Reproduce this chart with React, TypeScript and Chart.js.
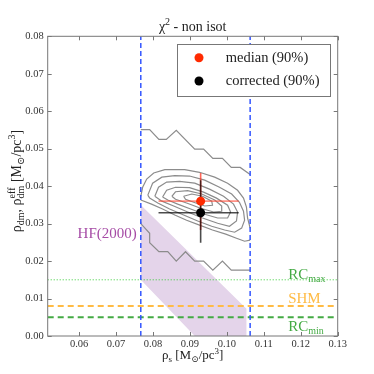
import React, { useEffect, useRef } from 'react';
import { Chart, registerables } from 'chart.js';

Chart.register(...registerables);

const SERIF = "'Liberation Serif', 'DejaVu Serif', serif";

// ---- axes ----
const X_RANGE = [0.0515, 0.13];
const Y_RANGE = [0, 0.08];
const xTickValues = [0.06, 0.07, 0.08, 0.09, 0.1, 0.11, 0.12, 0.13];
const yTickValues = [0.0, 0.01, 0.02, 0.03, 0.04, 0.05, 0.06, 0.07, 0.08];

// ---- HF(2000) band ----
const bandX = [0.0767, 0.1053, 0.1053, 0.0913, 0.0767, 0.0767];
const bandY = [0.035, 0.0073, 0.0, 0.0, 0.015, 0.035];

// ---- open contour lines ----
const upperX = [0.0767, 0.0791, 0.0816, 0.0836, 0.0863, 0.0913, 0.0937, 0.0962, 0.0988, 0.1012, 0.1036, 0.1063];
const upperY = [0.0551, 0.0551, 0.0525, 0.0525, 0.0549, 0.0499, 0.0499, 0.0474, 0.0474, 0.045, 0.045, 0.0431];
const lowerX = [0.0767, 0.0767, 0.0791, 0.0791, 0.0816, 0.084, 0.0863, 0.0888, 0.0913, 0.0937, 0.0962, 0.0988, 0.1012, 0.1063];
const lowerY = [0.0305, 0.03, 0.0274, 0.0249, 0.0225, 0.0225, 0.02, 0.0225, 0.02, 0.02, 0.0176, 0.02, 0.0176, 0.0176];

// ---- closed / clipped contours ----
const c1aX = [0.0767, 0.0772, 0.0783, 0.0802, 0.0832, 0.0886, 0.0926, 0.0967, 0.1002, 0.1029, 0.1045, 0.1053, 0.1056, 0.1063];
const c1aY = [0.0373, 0.0397, 0.0419, 0.0435, 0.0444, 0.0444, 0.0437, 0.0424, 0.0408, 0.0389, 0.0368, 0.0344, 0.0315, 0.0288];
const c1bX = [0.1063, 0.1048, 0.1026, 0.0997, 0.0961, 0.0926, 0.0891, 0.0859, 0.0826, 0.0796, 0.0767];
const c1bY = [0.0256, 0.0253, 0.0261, 0.0272, 0.0283, 0.0296, 0.0309, 0.0323, 0.0339, 0.0352, 0.0363];
const c2X = [0.0786, 0.0799, 0.0824, 0.0859, 0.0899, 0.094, 0.098, 0.1013, 0.1034, 0.1045, 0.1048, 0.104, 0.1021, 0.0994, 0.0959, 0.0921, 0.0883, 0.0845, 0.0813, 0.0791, 0.0786];
const c2Y = [0.0376, 0.0408, 0.0424, 0.0428, 0.0427, 0.0416, 0.0397, 0.0379, 0.0357, 0.0333, 0.0309, 0.0288, 0.0277, 0.0283, 0.0293, 0.0307, 0.0323, 0.0339, 0.0355, 0.0368, 0.0376];
const c3X = [0.0805, 0.0815, 0.0837, 0.0872, 0.0913, 0.0953, 0.0991, 0.1018, 0.1029, 0.1026, 0.1007, 0.0975, 0.0934, 0.0894, 0.0856, 0.0824, 0.0805];
const c3Y = [0.0373, 0.0397, 0.0411, 0.0413, 0.0408, 0.0392, 0.0373, 0.0352, 0.0331, 0.0307, 0.0293, 0.0301, 0.0315, 0.0331, 0.0347, 0.036, 0.0373];
const c4X = [0.0826, 0.0837, 0.0861, 0.0899, 0.0937, 0.0972, 0.1002, 0.101, 0.1002, 0.0975, 0.094, 0.0902, 0.0867, 0.084, 0.0826];
const c4Y = [0.0371, 0.0389, 0.0397, 0.0396, 0.0384, 0.0368, 0.0349, 0.0331, 0.0315, 0.0315, 0.0325, 0.0339, 0.0352, 0.0363, 0.0371];
const c5X = [0.0851, 0.0861, 0.0894, 0.0932, 0.0967, 0.0986, 0.0986, 0.0964, 0.0929, 0.0891, 0.0861, 0.0851];
const c5Y = [0.0373, 0.0385, 0.0388, 0.0379, 0.0363, 0.0347, 0.0333, 0.0331, 0.0341, 0.0355, 0.0365, 0.0373];
const c6X = [0.0883, 0.0905, 0.0934, 0.0959, 0.0961, 0.094, 0.091, 0.0888, 0.0883];
const c6Y = [0.0373, 0.0379, 0.0373, 0.036, 0.0349, 0.0347, 0.0357, 0.0365, 0.0373];

// ---- reference lines ----
const verticalLinesX = [0.0767, 0.1063];
const rcMax = 0.015;
const shm = 0.008;
const rcMin = 0.005;

// ---- estimates ----
const medianPoint = [0.0929, 0.036];
const medianXErr = [0.0815, 0.1032];
const medianYErr = [0.0283, 0.0435];
const correctedPoint = [0.0929, 0.0329];
const correctedXErr = [0.0815, 0.1032];
const correctedYErr = [0.0249, 0.0416];

const legendLabels = ['median (90%)', 'corrected (90%)'];

const pts = (xs: number[], ys: number[]) => xs.map((x, i) => ({ x, y: ys[i] }));

type Seg = { t: string; sz: number; dy: number; keep?: boolean };

function drawRich(ctx: CanvasRenderingContext2D, segs: Seg[], x0: number, y0: number, align: 'left' | 'center' | 'right', color: string) {
  let x = 0;
  let pending = 0;
  const items: { s: Seg; x: number }[] = [];
  for (const s of segs) {
    ctx.font = `${s.sz}px ${SERIF}`;
    const w = ctx.measureText(s.t).width;
    items.push({ s, x });
    if (s.keep) pending = Math.max(pending, w);
    else {
      x += Math.max(pending, w);
      pending = 0;
    }
  }
  const total = x;
  const start = align === 'left' ? x0 : align === 'center' ? x0 - total / 2 : x0 - total;
  ctx.fillStyle = color;
  ctx.textAlign = 'left';
  ctx.textBaseline = 'alphabetic';
  for (const it of items) {
    ctx.font = `${it.s.sz}px ${SERIF}`;
    ctx.fillText(it.s.t, start + it.x, y0 + it.s.dy);
  }
}

const decorPlugin = {
  id: 'decor',
  afterDatasetsDraw(chart: any) {
    const ctx: CanvasRenderingContext2D = chart.ctx;
    const { left, right, top, bottom } = chart.chartArea;
    const xs = chart.scales.x;
    const ys = chart.scales.y;
    ctx.save();
    // frame
    ctx.strokeStyle = '#777';
    ctx.lineWidth = 1;
    ctx.setLineDash([]);
    ctx.strokeRect(left, top, right - left, bottom - top);
    // inward ticks
    ctx.beginPath();
    for (const v of xTickValues) {
      const px = Math.round(xs.getPixelForValue(v)) + 0.5;
      ctx.moveTo(px, bottom);
      ctx.lineTo(px, bottom - 4);
      ctx.moveTo(px, top);
      ctx.lineTo(px, top + 4);
    }
    for (const v of yTickValues) {
      const py = Math.round(ys.getPixelForValue(v)) + 0.5;
      ctx.moveTo(left, py);
      ctx.lineTo(left + 4, py);
      ctx.moveTo(right, py);
      ctx.lineTo(right - 4, py);
    }
    ctx.stroke();

    // title
    drawRich(ctx, [
      { t: 'χ', sz: 14, dy: 0 },
      { t: '2', sz: 10, dy: -6 },
      { t: ' - non isot', sz: 14, dy: 0 },
    ], (left + right) / 2, 30.5, 'center', '#222');

    // x label
    drawRich(ctx, [
      { t: 'ρ', sz: 13, dy: 0 },
      { t: 's', sz: 9, dy: 3 },
      { t: ' [M', sz: 13, dy: 0 },
      { t: '⊙', sz: 9, dy: 3 },
      { t: '/pc', sz: 13, dy: 0 },
      { t: '3', sz: 9, dy: -5 },
      { t: ']', sz: 13, dy: 0 },
    ], (left + right) / 2, 359, 'center', '#222');

    // y label
    ctx.save();
    ctx.translate(20.5, 181);
    ctx.rotate(-Math.PI / 2);
    drawRich(ctx, [
      { t: 'ρ', sz: 14, dy: 0 },
      { t: 'dm', sz: 10, dy: 3 },
      { t: ', ', sz: 14, dy: 0 },
      { t: 'ρ', sz: 14, dy: 0 },
      { t: 'dm', sz: 10, dy: 3, keep: true },
      { t: 'eff', sz: 10, dy: -6 },
      { t: ' [M', sz: 14, dy: 0 },
      { t: '⊙', sz: 10, dy: 3 },
      { t: '/pc', sz: 14, dy: 0 },
      { t: '3', sz: 10, dy: -6 },
      { t: ']', sz: 14, dy: 0 },
    ], 0, 0, 'center', '#222');
    ctx.restore();

    // annotations
    drawRich(ctx, [{ t: 'HF(2000)', sz: 15, dy: 0 }], xs.getPixelForValue(0.0756), 238, 'right', '#a64ca6');
    const lx = xs.getPixelForValue(0.1166);
    const yMax = ys.getPixelForValue(rcMax);
    drawRich(ctx, [{ t: 'RC', sz: 15, dy: 0 }, { t: 'max', sz: 10, dy: 3 }], lx, yMax - 1, 'left', '#44aa44');
    const yShm = ys.getPixelForValue(shm);
    drawRich(ctx, [{ t: 'SHM', sz: 15, dy: 0 }], lx, yShm - 3, 'left', '#ffbb44');
    const yMin = ys.getPixelForValue(rcMin);
    drawRich(ctx, [{ t: 'RC', sz: 15, dy: 0 }, { t: 'min', sz: 10, dy: 3 }], lx, yMin + 13.5, 'left', '#44aa44');

    // legend
    const bx = 176.7, by = 44.3, bw = 153.3, bh = 51.7;
    ctx.fillStyle = '#fff';
    ctx.fillRect(bx, by, bw, bh);
    ctx.strokeStyle = '#777';
    ctx.lineWidth = 1;
    ctx.strokeRect(Math.round(bx) + 0.5, Math.round(by) + 0.5, Math.round(bw), Math.round(bh));
    const rows = [57.7, 81];
    const colors = ['#ff2a00', '#000000'];
    rows.forEach((ry, i) => {
      ctx.beginPath();
      ctx.fillStyle = colors[i];
      ctx.arc(199, ry, 4.5, 0, Math.PI * 2);
      ctx.fill();
      ctx.font = `14.5px ${SERIF}`;
      ctx.fillStyle = '#222';
      ctx.textAlign = 'left';
      ctx.textBaseline = 'middle';
      ctx.fillText(legendLabels[i], 225.7, ry);
    });
    ctx.restore();
  },
};

export default function App() {
  const ref = useRef<HTMLCanvasElement>(null);
  useEffect(() => {
    if (!ref.current) return;
    const contour = (xs: number[], ys: number[], order = 50) => ({
      data: pts(xs, ys),
      showLine: true,
      borderColor: '#8c8c8c',
      borderWidth: 1.2,
      pointRadius: 0,
      fill: false,
      order,
    });
    const hline = (y: number, color: string, width: number, dash: number[]) => ({
      data: [{ x: X_RANGE[0], y }, { x: X_RANGE[1], y }],
      showLine: true,
      borderColor: color,
      borderWidth: width,
      borderDash: dash,
      pointRadius: 0,
      fill: false,
      order: 40,
    });
    const vline = (x: number) => ({
      data: [{ x, y: Y_RANGE[0] }, { x, y: Y_RANGE[1] }],
      showLine: true,
      borderColor: '#3355ff',
      borderWidth: 1.5,
      borderDash: [5, 3],
      pointRadius: 0,
      fill: false,
      order: 30,
    });
    const seg = (a: { x: number; y: number }, b: { x: number; y: number }, color: string, order: number) => ({
      data: [a, b],
      showLine: true,
      borderColor: color,
      borderWidth: 1.6,
      pointRadius: 0,
      fill: false,
      order,
    });
    const chart = new Chart(ref.current, {
      type: 'scatter',
      data: {
        datasets: [
          {
            data: pts(bandX, bandY),
            showLine: true,
            borderWidth: 0,
            borderColor: 'rgba(0,0,0,0)',
            backgroundColor: '#e4d4ea',
            fill: 'shape',
            pointRadius: 0,
            order: 100,
          } as any,
          contour(upperX, upperY),
          contour(lowerX, lowerY),
          contour(c1aX, c1aY),
          contour(c1bX, c1bY),
          contour(c2X, c2Y),
          contour(c3X, c3Y),
          contour(c4X, c4Y),
          contour(c5X, c5Y),
          contour(c6X, c6Y),
          hline(rcMax, '#33cc33', 1, [1, 2]),
          hline(shm, '#ffbb44', 2, [6, 4]),
          hline(rcMin, '#44aa44', 2, [6, 4]),
          vline(verticalLinesX[0]),
          vline(verticalLinesX[1]),
          seg({ x: medianXErr[0], y: medianPoint[1] }, { x: medianXErr[1], y: medianPoint[1] }, 'rgba(255,70,50,0.6)', 12),
          seg({ x: medianPoint[0], y: medianYErr[0] }, { x: medianPoint[0], y: medianYErr[1] }, 'rgba(255,40,20,0.7)', 12),
          seg({ x: correctedXErr[0], y: correctedPoint[1] }, { x: correctedXErr[1], y: correctedPoint[1] }, 'rgba(0,0,0,0.7)', 11),
          seg({ x: correctedPoint[0], y: correctedYErr[0] }, { x: correctedPoint[0], y: correctedYErr[1] }, 'rgba(0,0,0,0.7)', 11),
          {
            data: [{ x: medianPoint[0], y: medianPoint[1] }],
            pointRadius: 4.5,
            pointBackgroundColor: '#ff2a00',
            pointBorderWidth: 0,
            order: 1,
          } as any,
          {
            data: [{ x: correctedPoint[0], y: correctedPoint[1] }],
            pointRadius: 4.5,
            pointBackgroundColor: '#000000',
            pointBorderWidth: 0,
            order: 0,
          } as any,
        ],
      },
      options: {
        animation: false,
        responsive: false,
        devicePixelRatio: 1,
        layout: { padding: { top: 36.3, right: 36.3, left: 0, bottom: 0 } },
        plugins: { legend: { display: false }, tooltip: { enabled: false }, title: { display: false } },
        scales: {
          x: {
            type: 'linear',
            min: X_RANGE[0],
            max: X_RANGE[1],
            grid: { display: false, drawTicks: false, tickLength: 0 },
            border: { display: false },
            afterBuildTicks: (s: any) => {
              s.ticks = xTickValues.map((v) => ({ value: v }));
            },
            afterFit: (s: any) => {
              s.height = 38;
            },
            ticks: {
              font: { family: SERIF, size: 10.5 },
              color: '#333',
              padding: 2,
              maxRotation: 0,
              autoSkip: false,
              callback: (v: any) => Number(v).toFixed(2),
            },
          },
          y: {
            type: 'linear',
            min: Y_RANGE[0],
            max: Y_RANGE[1],
            grid: { display: false, drawTicks: false, tickLength: 0 },
            border: { display: false },
            afterBuildTicks: (s: any) => {
              s.ticks = yTickValues.map((v) => ({ value: v }));
            },
            afterFit: (s: any) => {
              s.width = 47.7;
            },
            ticks: {
              font: { family: SERIF, size: 10.5 },
              color: '#333',
              padding: 4,
              autoSkip: false,
              callback: (v: any) => Number(v).toFixed(2),
            },
          },
        },
      } as any,
      plugins: [decorPlugin],
    });
    return () => chart.destroy();
  }, []);
  return (
    <div style={{ position: 'absolute', left: 0, top: 0, width: 374, height: 374, background: '#fff' }}>
      <canvas ref={ref} width={374} height={374} style={{ display: 'block' }} />
    </div>
  );
}
